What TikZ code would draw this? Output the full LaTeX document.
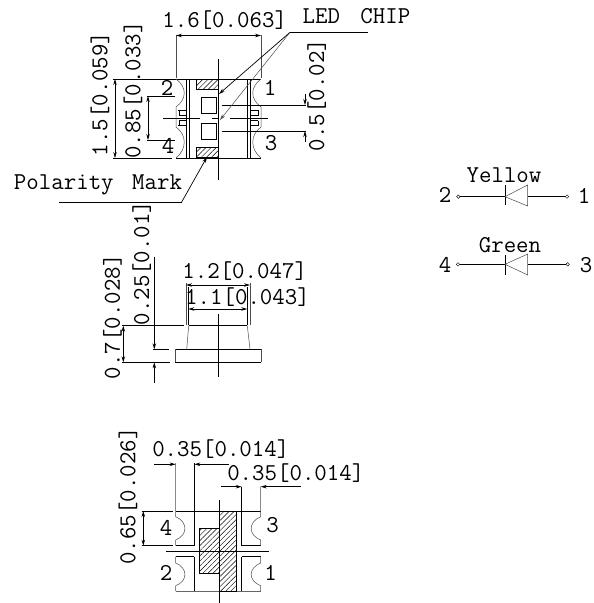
\documentclass[tikz,border=0pt]{standalone}
\usepackage{tikz}
\usetikzlibrary{arrows,arrows.meta,patterns.meta,positioning}
\tikzstyle{dimtext} = [font=\ttfamily\fontsize{24.2}{24.2}\selectfont, inner sep=0pt]
\tikzstyle{pinlabel} = [font=\ttfamily\fontsize{24.2}{24.2}\selectfont, inner sep=0pt]
\tikzstyle{part} = [line width=0.9pt, black]
\tikzstyle{thin line} = [line width=0.5pt, black!70]
\tikzstyle{dim} = [line width=0.7pt, black, -{Stealth[length=6pt,width=3.5pt]}]
\tikzstyle{dimboth} = [line width=0.7pt, black, {Stealth[length=6pt,width=3.5pt]}-{Stealth[length=6pt,width=3.5pt]}]
\tikzstyle{hatched} = [line width=0.7pt, black, pattern={Lines[angle=45,distance=3.6pt,line width=0.45pt]}]
\tikzstyle{lead} = [draw=black, fill=white, line width=0.4pt, circle, inner sep=0pt, minimum size=3.5pt]

\begin{document}
\begin{tikzpicture}[x=1pt, y=-1pt]
\useasboundingbox[fill=white] (0,0) rectangle (594,603);

% Top view
\draw [part] (113,79) -- (261,79);
\draw [part] (113,158) -- (172,158);
\draw [part] (176,158) -- (261,158);
\draw [part] (186.7,79) -- (186.7,158);
\draw [part] (189,79) -- (189,158);
\draw [part] (247.7,79) -- (247.7,158);
\draw [part] (250.5,79) -- (250.5,158);
\draw [part] (218.3,59) -- (218.3,180);
\draw [part] (163,118) -- (200,118);
\draw [part] (212,118) -- (218,118);
\draw [part] (230,118) -- (268,118);
\draw [hatched] (196.7,79) rectangle (218.3,89);
\draw [hatched] (196.7,147.7) rectangle (218.3,157.7);
\draw [part] (201,97.3) rectangle (216.7,113.3);
\draw [part] (201,123) rectangle (216.7,139);

% Notches left
\draw [thin line] (176,79) .. controls (187,87) and (187,99) .. (176,107) -- (176,127) .. controls (187,135) and (187,149) .. (176,158);
\draw [part] (178,110.7) -- (186,110.7);
\draw [part] (179,110.7) -- (179,115.7) -- (186,115.7);
\draw [part] (179,120.7) -- (186,120.7);
\draw [part] (179,120.7) -- (179,125.7);
\draw [part] (178,125.7) -- (186,125.7);

% Notches right
\draw [thin line] (261,79) .. controls (250,87) and (250,99) .. (261,107) -- (261,127) .. controls (250,135) and (250,149) .. (261,158);
\draw [part] (259,110.7) -- (251,110.7);
\draw [part] (258,110.7) -- (258,115.7) -- (251,115.7);
\draw [part] (258,120.7) -- (251,120.7);
\draw [part] (258,120.7) -- (258,125.7);
\draw [part] (259,125.7) -- (251,125.7);

% Top view dimensions
\draw [thin line] (176,35) -- (176,78);
\draw [thin line] (261,35) -- (261,78);
\draw [dimboth] (176,35.5) -- (261,35.5);
\node (width) [dimtext] at (224.7,20) {1.6[0.063]};
\draw [dimboth] (115,79) -- (115,158);
\node (height) [dimtext, rotate=90] at (100,94) {1.5[0.059]};
\draw [part] (147,96) -- (175,96);
\draw [part] (147,140) -- (175,140);
\draw [dimboth] (148,96) -- (148,140);
\node (pitch) [dimtext, rotate=90] at (133,90) {0.85[0.033]};
\draw [part] (221.7,105) -- (306,105);
\draw [part] (221.7,131) -- (306,131);
\draw [dim] (305,94) -- (305,105);
\draw [dim] (305,142) -- (305,131);
\node (chipgap) [dimtext, rotate=90] at (316.7,95) {0.5[0.02]};

% Pins top view
\node (topa) [pinlabel] at (167,88) {2};
\node (topb) [pinlabel] at (168,146) {4};
\node (topc) [pinlabel] at (270,88) {1};
\node (topd) [pinlabel] at (271,143) {3};

% Leaders
\node (chip) [dimtext] at (356.5,16.5) {LED\ \hspace{8pt}CHIP};
\coordinate (chipknee) at (290,32.3);
\draw [part] (chipknee) -- (368,32.3);
\draw [dim] (chipknee) -- (219,94);
\draw [dim, thin line] (chipknee) -- (220,120);
\node (polarity) [dimtext] at (98,185) {Polarity\ \hspace{6pt}Mark};
\coordinate (polknee) at (181.7,202);
\draw [part] (59,202) -- (polknee);
\draw [dim] (polknee) -- (207,157);

% Side view
\draw [part] (175,349.3) -- (261,349.3);
\draw [part] (175,362.3) -- (261,362.3);
\draw [thin line] (175,349.3) -- (175,362.3);
\draw [thin line] (261,349.3) -- (261,362.3);
\draw [part] (188.7,325.7) -- (247.3,325.7);
\draw [thin line] (188.7,325.7) -- (186.7,349.3);
\draw [thin line] (247.3,325.7) -- (250,349.3);
\draw [part] (218.3,314) -- (218.3,376.7);

% Side view dimensions
\draw [part] (121.7,325.7) -- (184,325.7);
\draw [part] (121.7,362.3) -- (170,362.3);
\draw [part] (153,349.3) -- (169,349.3);
\draw [thin line] (186,283) -- (186,325);
\draw [thin line] (250,283) -- (250,325);
\draw [part] (188.3,287) -- (188.3,325);
\draw [part] (247.3,287) -- (247.3,325);
\draw [dimboth] (186,285) -- (250,285);
\draw [dimboth] (188.3,309) -- (247.3,309);
\node (domewide) [dimtext] at (244.7,270.7) {1.2[0.047]};
\node (domenarrow) [dimtext] at (247.5,297) {1.1[0.043]};
\draw [dimboth] (123.3,325.7) -- (123.3,362.3);
\node (sideheight) [dimtext, rotate=90] at (112.5,316.7) {0.7[0.028]};
\draw [dim] (154.3,256.7) -- (154.3,349.3);
\draw [dim] (154.3,383) -- (154.3,362.3);
\node (basethick) [dimtext, rotate=90] at (141.7,263) {0.25[0.01]};

% Bottom view
\draw [part] (141.7,511) -- (173,511);
\draw [part] (175.7,511) -- (260.7,511);
\draw [part] (141.7,545.7) -- (173,545.7);
\draw [part] (175.7,545.7) -- (194.3,545.7);
\draw [part] (241.7,545.7) -- (260.7,545.7);
\draw [part] (175.7,556.7) -- (194.3,556.7);
\draw [part] (241.7,556.7) -- (260.7,556.7);
\draw [line width=1pt, black!60] (175.7,591) -- (260.7,591);
\draw [part] (194.3,463) -- (194.3,545.7);
\draw [part] (241.7,486.7) -- (241.7,545.7);
\draw [part] (194.3,556.7) -- (194.3,591);
\draw [part] (241.7,556.7) -- (241.7,591);
\draw [hatched] (219,511) -- (236.7,511) -- (236.7,591) -- (219,591) -- (219,573.3) -- (199.3,573.3) -- (199.3,528.3) -- (219,528.3) -- cycle;
\draw [part] (219,500) -- (219,602.7);
\draw [part] (166,551) -- (269,551);
\draw [thin line] (175.7,463) -- (175.7,516.7) .. controls (188,522) and (188,535) .. (175.7,540) -- (175.7,545.7);
\draw [thin line] (175.7,556.7) -- (175.7,563) .. controls (188,568) and (188,581) .. (175.7,585.7) -- (175.7,591);
\draw [thin line] (260.7,486.7) -- (260.7,516.7) .. controls (248,522) and (248,535) .. (260.7,540) -- (260.7,545.7);
\draw [thin line] (260.7,556.7) -- (260.7,563) .. controls (248,568) and (248,581) .. (260.7,585.7) -- (260.7,591);

% Bottom view dimensions
\draw [dim] (154.3,464.3) -- (175.7,464.3);
\draw [dim] (229,464.3) -- (194.3,464.3);
\node (padleft) [dimtext] at (220.8,449.3) {0.35[0.014]};
\draw [dim] (221,486.7) -- (241.7,486.7);
\draw [dim] (301,486.7) -- (260.7,486.7);
\node (padright) [dimtext] at (295.8,473.3) {0.35[0.014]};
\draw [dimboth] (143.3,511) -- (143.3,545.7);
\node (padheight) [dimtext, rotate=90] at (128,496) {0.65[0.026]};

% Pins bottom view
\node (bota) [pinlabel] at (166,528) {4};
\node (botb) [pinlabel] at (272.7,525) {3};
\node (botc) [pinlabel] at (166,573) {2};
\node (botd) [pinlabel] at (270.7,573) {1};

% Yellow diode
\node (yellow) [dimtext] at (504,175) {Yellow};
\node (ya) [pinlabel] at (445,195) {2};
\node (yb) [pinlabel] at (584,196) {1};
\node (yin) [lead] at (458.3,196.7) {};
\node (yout) [lead] at (567,196.7) {};
\coordinate (ycath) at (505,196.7);
\coordinate (yanode) at (527.7,196.7);
\draw [part] (yin) -- (ycath);
\draw [part] (yanode) -- (yout);
\draw [part] (505,185) -- (505,205);
\draw [thin line] (ycath) -- (527.7,185) -- (527.7,206) -- cycle;

% Green diode
\node (green) [dimtext] at (510,245) {Green};
\node (ga) [pinlabel] at (445,265) {4};
\node (gb) [pinlabel] at (586,265) {3};
\node (gin) [lead] at (458,264.3) {};
\node (gout) [lead] at (567.7,264.3) {};
\coordinate (gcath) at (505,264.3);
\coordinate (ganode) at (527.7,264.3);
\draw [part] (gin) -- (gcath);
\draw [part] (ganode) -- (gout);
\draw [part] (505,255) -- (505,275);
\draw [thin line] (gcath) -- (527.7,254) -- (527.7,275) -- cycle;

\end{tikzpicture}
\end{document}
